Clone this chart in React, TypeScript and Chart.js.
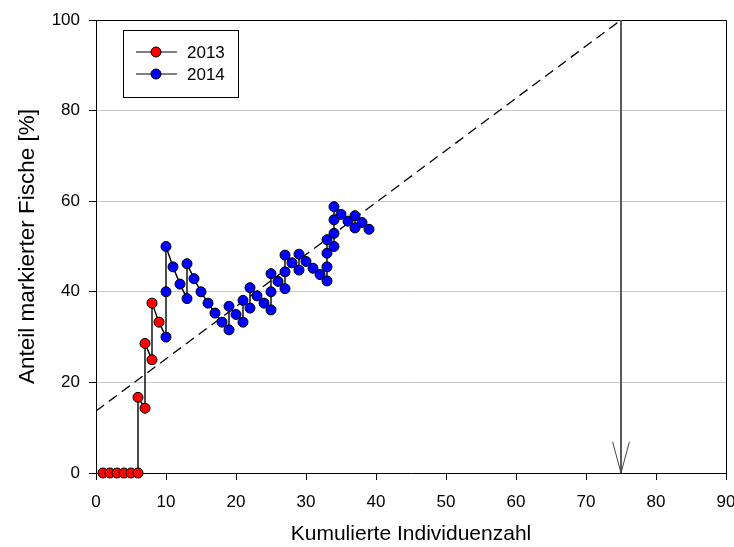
import { useEffect, useRef } from "react";
import { Chart, registerables } from "chart.js";
Chart.register(...registerables);

const n2013 = [1, 2, 3, 4, 5, 6, 6, 7, 7, 8, 8, 9];
const p2013 = [0, 0, 0, 0, 0, 0, 16.7, 14.3, 28.6, 25.0, 37.5, 33.3];

const n2014 = [10, 10, 10, 11, 12, 13, 13, 14, 15, 16, 17, 18, 19, 19, 20, 21, 21, 22, 22, 23, 24, 25, 25, 25, 26, 27, 27, 27, 28, 29, 29, 30, 31, 32, 33, 33, 33, 33, 34, 34, 34, 34, 35, 36, 37, 37, 38, 39];
const p2014 = [30.0, 40.0, 50.0, 45.5, 41.7, 38.5, 46.2, 42.9, 40.0, 37.5, 35.3, 33.3, 31.6, 36.8, 35.0, 33.3, 38.1, 36.4, 40.9, 39.1, 37.5, 36.0, 40.0, 44.0, 42.3, 40.7, 44.4, 48.1, 46.4, 44.8, 48.3, 46.7, 45.2, 43.8, 42.4, 45.5, 48.5, 51.5, 50.0, 52.9, 55.9, 58.8, 57.1, 55.6, 54.1, 56.8, 55.3, 53.8];

const regN = [0, 75];
const regP = [13.7, 100];
const arrowN = [75, 75];
const arrowP = [100, 0];
const headN = [73.8, 75, 76.2];
const headP = [6.9, 0, 6.9];

const xTicks = [0, 10, 20, 30, 40, 50, 60, 70, 80, 90];
const yTicks = [0, 20, 40, 60, 80, 100];

const legendLabels = ["2013", "2014"];
const legendColors = ["#ff0000", "#0000ff"];

const FONT = "'Liberation Sans', Arial, sans-serif";

const zip = (a: number[], b: number[]) => a.map((x, i) => ({ x, y: b[i] }));

const framePlugin = {
  id: "frame",
  beforeDatasetsDraw(chart: any) {
    const { ctx, chartArea } = chart;
    ctx.save();
    ctx.strokeStyle = "#000";
    ctx.lineWidth = 1;
    ctx.beginPath();
    ctx.moveTo(chartArea.left, chartArea.top + 0.5);
    ctx.lineTo(chartArea.right + 0.5, chartArea.top + 0.5);
    ctx.lineTo(chartArea.right + 0.5, chartArea.bottom);
    ctx.stroke();
    ctx.restore();
  },
  afterDraw(chart: any) {
    const { ctx, chartArea } = chart;
    const x0 = chartArea.left + 27;
    const y0 = chartArea.top + 10;
    ctx.save();
    ctx.fillStyle = "#fff";
    ctx.fillRect(x0, y0, 115, 67);
    ctx.strokeStyle = "#000";
    ctx.lineWidth = 1;
    ctx.strokeRect(x0 + 0.5, y0 + 0.5, 115, 67);
    legendLabels.forEach((lab, i) => {
      const yy = y0 + 22 + i * 22;
      ctx.beginPath();
      ctx.moveTo(x0 + 13, yy);
      ctx.lineTo(x0 + 54, yy);
      ctx.strokeStyle = "#000";
      ctx.stroke();
      ctx.beginPath();
      ctx.arc(x0 + 33, yy, 5, 0, Math.PI * 2);
      ctx.fillStyle = legendColors[i];
      ctx.fill();
      ctx.stroke();
      ctx.fillStyle = "#000";
      ctx.font = `17px ${FONT}`;
      ctx.textBaseline = "middle";
      ctx.textAlign = "left";
      ctx.fillText(lab, x0 + 64, yy + 1);
    });
    ctx.restore();
  },
};

export default function App() {
  const ref = useRef<HTMLCanvasElement | null>(null);
  useEffect(() => {
    if (!ref.current) return;
    const all = [...zip(n2013, p2013), ...zip(n2014, p2014)];
    const marker = (color: string) => ({
      showLine: false,
      pointRadius: 5,
      pointBackgroundColor: color,
      pointBorderColor: "#000",
      pointBorderWidth: 1,
      clip: false,
      order: 0,
    });
    const chart = new Chart(ref.current, {
      type: "scatter",
      data: {
        datasets: [
          { label: "2013", data: zip(n2013, p2013), ...marker("#ff0000") } as any,
          { label: "2014", data: zip(n2014, p2014), ...marker("#0000ff") } as any,
          {
            label: "path",
            data: all,
            showLine: true,
            borderColor: "#000",
            borderWidth: 1.4,
            pointRadius: 0,
            order: 1,
          },
          {
            label: "reg",
            data: zip(regN, regP),
            showLine: true,
            borderColor: "#000",
            borderWidth: 1.3,
            borderDash: [10, 6],
            pointRadius: 0,
            order: 2,
          },
          {
            label: "arrow",
            data: zip(arrowN, arrowP),
            showLine: true,
            borderColor: "#444",
            borderWidth: 1,
            pointRadius: 0,
            order: 2,
          },
          {
            label: "head",
            data: zip(headN, headP),
            showLine: true,
            borderColor: "#444",
            borderWidth: 1,
            pointRadius: 0,
            order: 2,
          },
        ],
      },
      options: {
        animation: false,
        responsive: true,
        maintainAspectRatio: false,
        devicePixelRatio: 1,
        layout: { padding: { top: 20, right: 8, left: 0, bottom: 0 } },
        plugins: {
          legend: { display: false },
          tooltip: { enabled: false },
        },
        scales: {
          x: {
            type: "linear",
            min: 0,
            max: 90,
            afterBuildTicks: (s: any) => {
              s.ticks = xTicks.map((v) => ({ value: v }));
            },
            afterFit: (s: any) => {
              s.height = 74;
              s.paddingLeft = 0;
              s.paddingRight = 0;
            },
            ticks: {
              color: "#000",
              font: { family: FONT, size: 17 },
              padding: 12,
              maxRotation: 0,
            },
            grid: {
              drawOnChartArea: false,
              drawTicks: true,
              tickLength: 7,
              tickColor: "#000",
            },
            border: { color: "#000", width: 1 },
            title: {
              display: true,
              text: "Kumulierte Individuenzahl",
              color: "#000",
              font: { family: FONT, size: 21 },
              padding: { top: 0, bottom: 0 },
            },
          },
          y: {
            type: "linear",
            min: 0,
            max: 100,
            afterBuildTicks: (s: any) => {
              s.ticks = yTicks.map((v) => ({ value: v }));
            },
            afterFit: (s: any) => {
              s.width = 96;
              s.paddingTop = 0;
              s.paddingBottom = 0;
            },
            ticks: {
              color: "#000",
              font: { family: FONT, size: 17 },
              padding: 9,
            },
            grid: {
              color: (c: any) =>
                c.tick && (c.tick.value === 0 || c.tick.value === 100) ? "rgba(0,0,0,0)" : "#c8c8c8",
              drawTicks: true,
              tickLength: 7,
              tickColor: "#000",
            },
            border: { color: "#000", width: 1 },
            title: {
              display: true,
              text: "Anteil markierter Fische [%]",
              color: "#000",
              font: { family: FONT, size: 22.5 },
              padding: { top: 14, bottom: 0 },
            },
          },
        },
      },
      plugins: [framePlugin],
    });
    return () => chart.destroy();
  }, []);
  return (
    <div style={{ position: "fixed", left: 0, top: 0, width: 734, height: 547, background: "#fff" }}>
      <canvas ref={ref} />
    </div>
  );
}
